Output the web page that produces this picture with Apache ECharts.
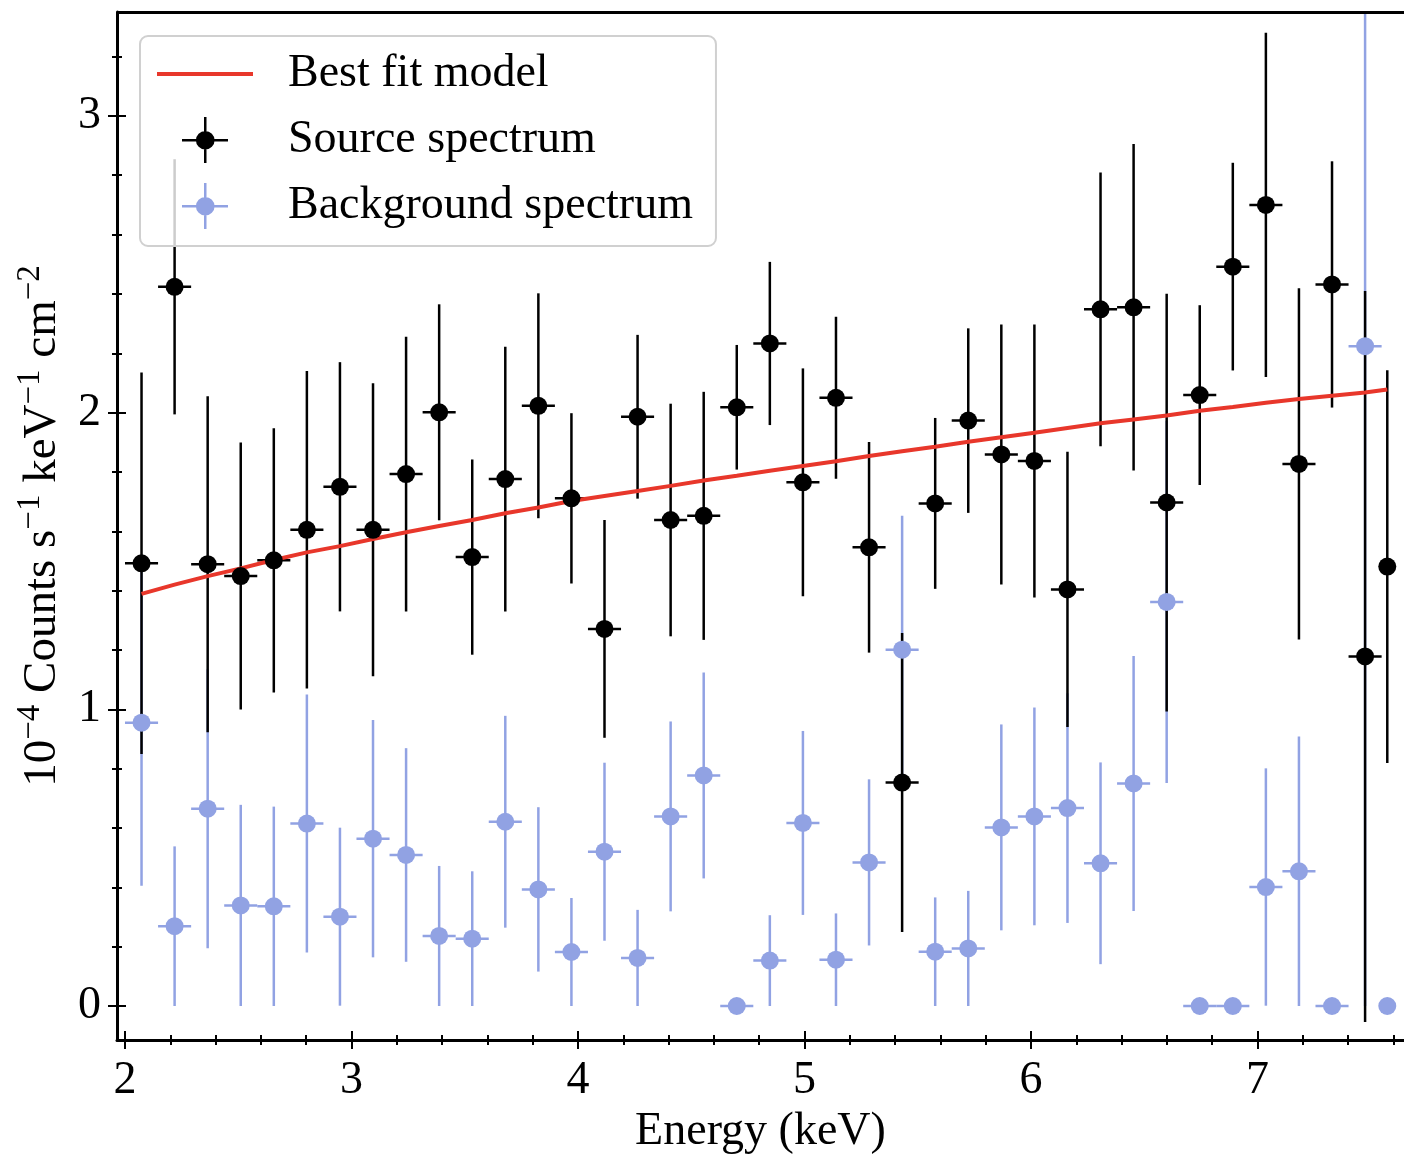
<!DOCTYPE html>
<html>
<head>
<meta charset="utf-8">
<title>Spectrum</title>
<script src="https://cdn.jsdelivr.net/npm/echarts@6/dist/echarts.min.js"></script>
<style>
  html, body { margin: 0; padding: 0; background: #fff; overflow: hidden; }
  #chart { width: 1404px; height: 1154px; }
</style>
</head>
<body>
<div id="chart"></div>
<script>
// bin centres (keV) and bin half widths
const energy = [2.073, 2.219, 2.365, 2.511, 2.657, 2.803, 2.949, 3.095, 3.241, 3.387,
  3.533, 3.679, 3.825, 3.971, 4.117, 4.263, 4.409, 4.555, 4.701, 4.847,
  4.993, 5.139, 5.285, 5.431, 5.577, 5.723, 5.869, 6.015, 6.161, 6.307,
  6.453, 6.599, 6.745, 6.891, 7.037, 7.183, 7.329, 7.475, 7.573];
const energyErr = [0.073, 0.073, 0.073, 0.073, 0.073, 0.073, 0.073, 0.073, 0.073, 0.073,
  0.073, 0.073, 0.073, 0.073, 0.073, 0.073, 0.073, 0.073, 0.073, 0.073,
  0.073, 0.073, 0.073, 0.073, 0.073, 0.073, 0.073, 0.073, 0.073, 0.073,
  0.073, 0.073, 0.073, 0.073, 0.073, 0.073, 0.073, 0.073, 0.025];

// source spectrum (1e-4 counts/s/keV/cm2)
const srcRate = [1.492, 2.424, 1.489, 1.449, 1.502, 1.605, 1.750, 1.605, 1.793, 2.001,
  1.513, 1.776, 2.023, 1.711, 1.271, 1.986, 1.638, 1.652, 2.018, 2.233,
  1.765, 2.050, 1.546, 0.753, 1.694, 1.973, 1.859, 1.837, 1.404, 2.348,
  2.355, 1.697, 2.059, 2.492, 2.700, 1.827, 2.432, 1.178, 1.481];
const srcErr = [0.643, 0.430, 0.566, 0.450, 0.445, 0.535, 0.420, 0.494, 0.463, 0.364,
  0.329, 0.446, 0.379, 0.287, 0.367, 0.276, 0.392, 0.418, 0.210, 0.275,
  0.384, 0.273, 0.355, 0.504, 0.288, 0.311, 0.438, 0.460, 0.464, 0.461,
  0.550, 0.704, 0.303, 0.350, 0.580, 0.592, 0.415, 1.232, 0.662];

// background spectrum
const bkgRate = [0.955, 0.269, 0.665, 0.339, 0.336, 0.615, 0.301, 0.564, 0.509, 0.236,
  0.227, 0.621, 0.393, 0.182, 0.520, 0.162, 0.639, 0.777, 0.000, 0.153,
  0.617, 0.156, 0.484, 1.201, 0.183, 0.194, 0.602, 0.639, 0.667, 0.481,
  0.750, 1.362, 0.000, 0.000, 0.401, 0.454, 0.000, 2.224, 0.000];
const bkgErr = [0.550, 0.269, 0.470, 0.339, 0.336, 0.435, 0.300, 0.400, 0.360, 0.236,
  0.227, 0.357, 0.277, 0.182, 0.300, 0.162, 0.320, 0.347, 0.000, 0.153,
  0.310, 0.156, 0.280, 0.451, 0.183, 0.194, 0.347, 0.367, 0.387, 0.340,
  0.430, 0.610, 0.000, 0.000, 0.400, 0.454, 0.000, 2.224, 0.000];

// best fit model at bin centres
const modelRate = [1.389, 1.420, 1.449, 1.475, 1.503, 1.529, 1.550, 1.574, 1.597, 1.618,
  1.638, 1.661, 1.680, 1.702, 1.719, 1.736, 1.753, 1.771, 1.787, 1.804,
  1.820, 1.836, 1.854, 1.870, 1.885, 1.902, 1.917, 1.932, 1.948, 1.964,
  1.977, 1.990, 2.006, 2.019, 2.033, 2.046, 2.057, 2.068, 2.078];

// ticks
const xMajor = [2, 3, 4, 5, 6, 7];
const xMinor = [2.2, 2.4, 2.6, 2.8, 3.2, 3.4, 3.6, 3.8, 4.2, 4.4, 4.6, 4.8,
  5.2, 5.4, 5.6, 5.8, 6.2, 6.4, 6.6, 6.8, 7.2, 7.4, 7.6];
const yMajor = [0, 1, 2, 3];
const yMinor = [0.2, 0.4, 0.6, 0.8, 1.2, 1.4, 1.6, 1.8, 2.2, 2.4, 2.6, 2.8, 3.2];

const xMin = 1.9647, xMax = 7.6468;
const yMin = -0.1146, yMax = 3.3502;

const FONT = "Liberation Serif";
const RED = "#e8372b";
const BLUE = "#91a2e3";

const chart = echarts.init(document.getElementById("chart"));

// legend icons: plain line, and cross + dot
const lineIcon = "path://M0,0 H96 V4 H0 Z";
const crossIcon = "path://M0,22 H46 V24.5 H0 Z M22,0 H24.5 V46 H22 Z " +
  "M13.9,23.25 A9.35,9.35 0 1,1 32.6,23.25 A9.35,9.35 0 1,1 13.9,23.25 Z";

function makeAxes(dir, min, max, major, minor, labelMargin) {
  const base = {
    type: "value",
    min: min,
    max: max,
    position: dir === "x" ? "bottom" : "left",
    axisLine: { show: false, onZero: false },
    splitLine: { show: false },
    minorTick: { show: false },
    minorSplitLine: { show: false }
  };
  const tick = (values, inside, length) => ({
    show: true,
    customValues: values,
    inside: inside,
    length: length,
    lineStyle: { color: "#000", width: 2 }
  });
  // ticks cross the spine: one axis for outer ticks, one for inner, major and minor
  return [
    Object.assign({}, base, {
      axisLine: { show: true, onZero: false, lineStyle: { color: "#000", width: 3 } },
      axisTick: tick(major, false, 9),
      axisLabel: {
        customValues: major,
        margin: labelMargin,
        color: "#000",
        fontFamily: FONT,
        fontSize: 46
      }
    }),
    Object.assign({}, base, { axisTick: tick(major, true, 9), axisLabel: { show: false } }),
    Object.assign({}, base, { axisTick: tick(minor, false, 5), axisLabel: { show: false } }),
    Object.assign({}, base, { axisTick: tick(minor, true, 5), axisLabel: { show: false } })
  ];
}

function errorBars(values, errors, color, z) {
  return {
    type: "custom",
    z: z,
    silent: true,
    encode: { x: 0, y: 1 },
    data: energy.map((e, i) => [e, values[i], energyErr[i], errors[i]]),
    renderItem(params, api) {
      const e = api.value(0);
      const v = api.value(1);
      const dx = api.value(2);
      const dy = api.value(3);
      const style = { stroke: color, lineWidth: 2.5 };
      const children = [];
      const left = api.coord([e - dx, v]);
      const right = api.coord([e + dx, v]);
      children.push({
        type: "line",
        shape: { x1: left[0], y1: left[1], x2: right[0], y2: right[1] },
        style: style
      });
      if (dy > 0) {
        const lo = api.coord([e, Math.max(v - dy, yMin)]);
        const hi = api.coord([e, Math.min(v + dy, yMax)]);
        children.push({
          type: "line",
          shape: { x1: lo[0], y1: lo[1], x2: hi[0], y2: hi[1] },
          style: style
        });
      }
      return { type: "group", children: children };
    }
  };
}

const yName = "{n|10}{s|\u22124}{n| Counts s}{s|\u22121}{n| keV}{s|\u22121}{n| cm}{s|\u22122}";

const xAxes = makeAxes("x", xMin, xMax, xMajor, xMinor, 18);
xAxes[0].name = "Energy (keV)";
xAxes[0].nameLocation = "middle";
xAxes[0].nameGap = 64;
xAxes[0].nameTextStyle = { color: "#000", fontFamily: FONT, fontSize: 46 };

const yAxes = makeAxes("y", yMin, yMax, yMajor, yMinor, 16);
yAxes[0].name = yName;
yAxes[0].nameLocation = "middle";
yAxes[0].nameRotate = 90;
yAxes[0].nameGap = 45;
yAxes[0].nameTextStyle = {
  color: "#000",
  fontFamily: FONT,
  rich: {
    n: { fontFamily: FONT, fontSize: 47, color: "#000", lineHeight: 58 },
    s: { fontFamily: FONT, fontSize: 33, color: "#000", lineHeight: 58, verticalAlign: "top" }
  }
};

const options = {
  animation: false,
  backgroundColor: "#fff",
  grid: {
    show: false,
    left: 117,
    top: 12,
    width: 1287,
    height: 1028,
    outerBoundsMode: "none"
  },
  xAxis: xAxes,
  yAxis: yAxes,
  legend: {
    orient: "vertical",
    left: 140,
    top: 36,
    z: 20,
    padding: [15, 23, 17, 17],
    itemGap: 20,
    itemWidth: 96,
    itemHeight: 46,
    backgroundColor: "rgba(255,255,255,0.8)",
    borderColor: "#d0d0d0",
    borderWidth: 2,
    borderRadius: 8,
    selectedMode: false,
    textStyle: {
      color: "#000",
      fontFamily: FONT,
      fontSize: 46,
      lineHeight: 46,
      padding: [0, 0, 0, 30]
    },
    data: [
      { name: "Best fit model", icon: lineIcon },
      { name: "Source spectrum", icon: crossIcon },
      { name: "Background spectrum", icon: crossIcon }
    ]
  },
  series: [
    errorBars(bkgRate, bkgErr, BLUE, 1),
    errorBars(srcRate, srcErr, "#000", 2),
    {
      name: "Best fit model",
      type: "line",
      z: 3,
      symbol: "none",
      silent: true,
      lineStyle: { color: RED, width: 4 },
      itemStyle: { color: RED },
      data: energy.map((e, i) => [e, modelRate[i]]),
      // top spine
      markLine: {
        silent: true,
        symbol: "none",
        label: { show: false },
        lineStyle: { color: "#000", width: 3, type: "solid" },
        emphasis: { disabled: true },
        data: [{ yAxis: yMax }]
      }
    },
    {
      name: "Source spectrum",
      type: "scatter",
      z: 4,
      symbolSize: 18,
      silent: true,
      itemStyle: { color: "#000", opacity: 1 },
      data: energy.map((e, i) => [e, srcRate[i]])
    },
    {
      name: "Background spectrum",
      type: "scatter",
      z: 5,
      symbolSize: 18,
      silent: true,
      itemStyle: { color: BLUE, opacity: 1 },
      data: energy.map((e, i) => [e, bkgRate[i]])
    }
  ]
};

chart.setOption(options);
</script>
</body>
</html>
